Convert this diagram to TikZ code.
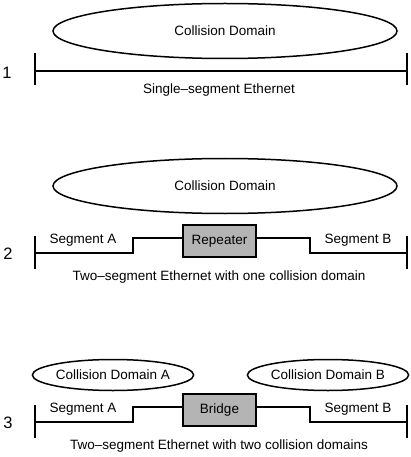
\documentclass[tikz,border=0pt]{standalone}
\usepackage{fontspec}
\setmainfont{Liberation Sans}
\usetikzlibrary{shapes.geometric}
\definecolor{boxgray}{RGB}{180,180,180}
\tikzset{
  wire/.style={line width=1.5pt},
  cdomain/.style={draw, line width=1.5pt, ellipse, inner sep=0pt, font=\fontsize{13.5}{15}\selectfont},
  lbl/.style={font=\fontsize{13.5}{15}\selectfont, inner sep=0pt},
  num/.style={font=\fontsize{16.5}{18}\selectfont, inner sep=0pt},
  dev/.style={draw, line width=1.5pt, fill=boxgray, minimum width=73pt, minimum height=32pt, inner sep=0pt, font=\fontsize{13.5}{15}\selectfont}
}
\begin{document}
\begin{tikzpicture}[x=1pt,y=-1pt]
\useasboundingbox (0,0) rectangle (410,457);
% ---------- Panel 1
\node[cdomain, minimum width=344pt, minimum height=55pt] (cd1) at (225,31) {Collision Domain};
\coordinate (t1a) at (35,53); \coordinate (t1b) at (35,85);
\coordinate (t1c) at (407,53); \coordinate (t1d) at (407,85);
\coordinate (l1a) at (35,71); \coordinate (l1b) at (407,71);
\draw[wire] (t1a) -- (t1b); \draw[wire] (t1c) -- (t1d);
\draw[wire] (l1a) -- (l1b);
\node[num] (n1) at (7,73) {1};
\node[lbl] (c1) at (219,90) {Single–segment Ethernet};
% ---------- Panel 2
\node[cdomain, minimum width=344pt, minimum height=55pt] (cd2) at (225,186) {Collision Domain};
\node[dev] (rep) at (219.5,241) {Repeater};
\coordinate (t2a) at (35,236); \coordinate (t2b) at (35,269);
\coordinate (t2c) at (407,236); \coordinate (t2d) at (407,269);
\draw[wire] (t2a) -- (t2b); \draw[wire] (t2c) -- (t2d);
\coordinate (l2a) at (35,253); \coordinate (l2b) at (407,253);
\draw[wire] (l2a) -- (133,253) -- (133,238) -- (rep.west |- 0,238);
\draw[wire] (rep.east |- 0,238) -- (310,238) -- (310,253) -- (l2b);
\node[lbl] (sa2) at (83,240) {Segment A};
\node[lbl] (sb2) at (358,240) {Segment B};
\node[num] (n2) at (8,254) {2};
\node[lbl] (c2) at (219,277) {Two–segment Ethernet with one collision domain};
% ---------- Panel 3
\node[cdomain, minimum width=147pt, minimum height=31pt] (cda) at (113,375) {Collision Domain A};
\node[cdomain, minimum width=142pt, minimum height=31pt] (cdb) at (328,375) {Collision Domain B};
\node[dev] (br) at (219.5,410) {Bridge};
\coordinate (t3a) at (35,405); \coordinate (t3b) at (35,438);
\coordinate (t3c) at (407,405); \coordinate (t3d) at (407,438);
\draw[wire] (t3a) -- (t3b); \draw[wire] (t3c) -- (t3d);
\coordinate (l3a) at (35,422); \coordinate (l3b) at (407,422);
\draw[wire] (l3a) -- (133,422) -- (133,407) -- (br.west |- 0,407);
\draw[wire] (br.east |- 0,407) -- (310,407) -- (310,422) -- (l3b);
\node[lbl] (sa3) at (83,409) {Segment A};
\node[lbl] (sb3) at (358,409) {Segment B};
\node[num] (n3) at (8,423) {3};
\node[lbl] (c3) at (219,446) {Two–segment Ethernet with two collision domains};
\end{tikzpicture}
\end{document}
